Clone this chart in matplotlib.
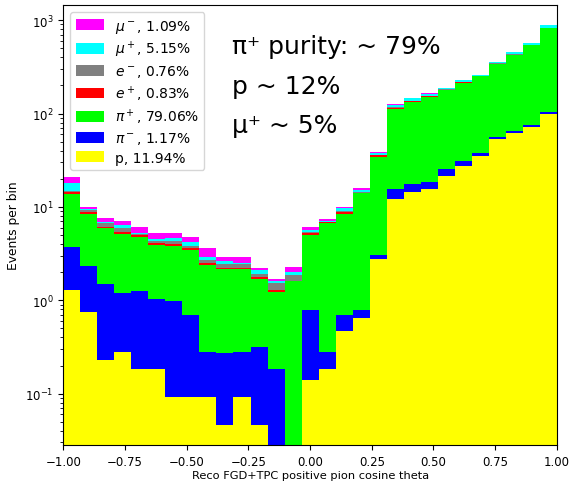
import numpy as np
import matplotlib
matplotlib.use("Agg")
import matplotlib.pyplot as plt

# 29 bins in reconstructed cos(theta), weighted events per bin for each true particle
edges = np.linspace(-1.0, 1.0, 30)
centers = 0.5 * (edges[:-1] + edges[1:])

proton = [1.30, 0.75, 0.23, 0.28, 0.185, 0.185, 0.092, 0.092, 0.092, 0.046,
          0.092, 0.046, 0.0, 0.0, 0.139, 0.185, 0.465, 0.65, 2.75, 12.3,
          14.6, 15.5, 21.6, 27.4, 35.4, 53.4, 61.5, 71.8, 100.0]
pi_minus = [2.38, 1.59, 1.25, 0.93, 1.075, 0.835, 0.89, 0.61, 0.19, 0.23,
            0.19, 0.27, 0.185, 0.0, 0.64, 0.095, 0.225, 0.13, 0.34, 3.1,
            2.8, 3.1, 3.7, 3.6, 2.8, 2.3, 4.2, 3.7, 3.0]
pi_plus = [10.0, 6.16, 4.5, 3.9, 3.45, 2.87, 2.82, 2.74, 2.09, 1.91,
           1.87, 1.39, 1.045, 1.60, 4.2, 6.37, 7.81, 13.18, 31.5, 96.6,
           114.6, 133.4, 153.7, 184.0, 211.8, 285.3, 359.3, 461.5, 720.0]
e_plus = [0.7, 0.3, 0.15, 0.31, 0.27, 0.17, 0.16, 0.15, 0.15, 0.05,
          0.09, 0.07, 0.07, 0.0, 0.22, 0.2, 0.4, 0.3, 1.0, 3.5,
          3.5, 2.0, 1.5, 2.0, 1.5, 2.0, 2.5, 2.5, 5.0]
e_minus = [0.3, 0.37, 0.52, 0.46, 0.13, 0.24, 0.34, 0.24, 0.17, 0.23,
           0.18, 0.15, 0.24, 0.25, 0.22, 0.1, 0.1, 0.2, 0.5, 2.0,
           2.0, 2.0, 1.5, 2.0, 1.5, 2.0, 2.5, 2.5, 3.0]
mu_plus = [3.2, 0.43, 0.29, 0.5, 0.18, 0.29, 0.29, 0.33, 0.23, 0.17,
           0.10, 0.17, 0.07, 0.17, 0.22, 0.16, 0.65, 0.8, 1.5, 5.0,
           8.0, 6.5, 6.0, 9.5, 6.5, 12.0, 22.0, 23.0, 60.0]
mu_minus = [2.8, 0.45, 0.72, 0.73, 0.84, 0.70, 0.70, 0.63, 0.73, 0.28,
            0.40, 0.13, 0.07, 0.26, 0.39, 0.23, 0.4, 0.54, 0.8, 3.5,
            3.0, 2.5, 2.0, 2.5, 1.5, 2.0, 3.0, 3.0, 4.0]

labels = ["p, 11.94%", r"$\pi^-$, 1.17%", r"$\pi^+$, 79.06%", r"$e^+$, 0.83%",
          r"$e^-$, 0.76%", r"$\mu^+$, 5.15%", r"$\mu^-$, 1.09%"]
colors = ["yellow", "blue", "lime", "red", "gray", "cyan", "magenta"]

weights = [proton, pi_minus, pi_plus, e_plus, e_minus, mu_plus, mu_minus]

fig = plt.figure(figsize=(5.7, 4.85), dpi=100)
ax = fig.add_axes([0.111, 0.0804, 0.866, 0.907])

ax.hist([centers] * len(weights), bins=edges, weights=weights, stacked=True,
        histtype="stepfilled", color=colors, label=labels, log=True)

ax.set_xlim(-1, 1)
ax.set_ylim(0.0282, 1450)
ax.set_xlabel("Reco FGD+TPC positive pion cosine theta", fontsize=8.2, labelpad=1.5)
ax.set_ylabel("Events per bin", fontsize=8.8)
ax.tick_params(labelsize=8.5)

# hist hands the handles back top layer first, which is the order wanted
ax.legend(loc="upper left", fontsize=10, labelspacing=0.3,
          handlelength=2.0, handleheight=0.8)

txt = dict(transform=ax.transAxes, fontsize=18, va="center", ha="left",
           family=["DejaVu Sans"])
ax.text(0.342, 0.907, "π⁺ purity: ~ 79%", **txt)
ax.text(0.342, 0.815, "p ~ 12%", **txt)
ax.text(0.342, 0.728, "μ⁺ ~ 5%", **txt)

fig.savefig("out.png", dpi=100)
